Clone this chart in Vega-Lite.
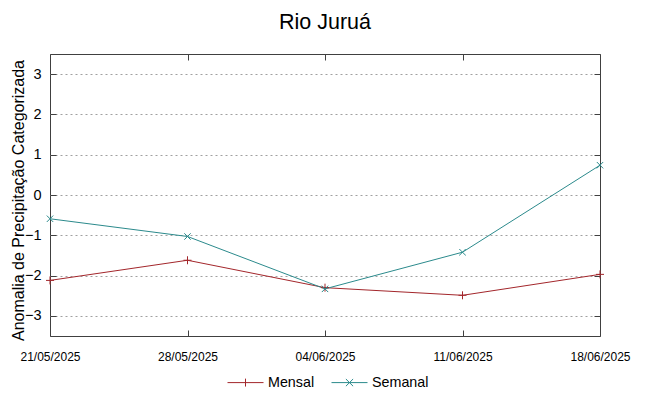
{
  "$schema": "https://vega.github.io/schema/vega-lite/v6.json",
  "width": 550,
  "height": 282,
  "autosize": {"type": "none"},
  "padding": {"left": 50, "top": 54, "right": 49, "bottom": 60},
  "background": "white",
  "title": {"text": "Rio Juruá", "fontSize": 21.5, "font": "Liberation Sans", "fontWeight": "normal", "color": "#000000", "anchor": "middle", "offset": 20},
  "data": {"values": [
    {"data": "21/05/2025", "serie": "Mensal", "valor": -2.12},
    {"data": "28/05/2025", "serie": "Mensal", "valor": -1.62},
    {"data": "04/06/2025", "serie": "Mensal", "valor": -2.30},
    {"data": "11/06/2025", "serie": "Mensal", "valor": -2.49},
    {"data": "18/06/2025", "serie": "Mensal", "valor": -1.97},
    {"data": "21/05/2025", "serie": "Semanal", "valor": -0.59},
    {"data": "28/05/2025", "serie": "Semanal", "valor": -1.03},
    {"data": "04/06/2025", "serie": "Semanal", "valor": -2.33},
    {"data": "11/06/2025", "serie": "Semanal", "valor": -1.42},
    {"data": "18/06/2025", "serie": "Semanal", "valor": 0.74}
  ]},
  "layer": [
    {"mark": {"type": "line", "strokeWidth": 1},
      "encoding": {
        "x": {"field": "data", "type": "ordinal", "sort": null,
          "scale": {"type": "point", "padding": 0},
          "axis": {"title": null, "labelAngle": 0, "labelFontSize": 12, "labelFont": "Liberation Sans", "labelColor": "#000000", "tickSize": -6, "tickColor": "#404040", "labelPadding": 21, "domain": false, "grid": false}},
        "y": {"field": "valor", "type": "quantitative",
          "scale": {"domain": [-3.5, 3.5], "nice": false, "zero": false},
          "axis": {"title": "Anomalia de Precipitação Categorizada", "values": [-3, -2, -1, 0, 1, 2, 3], "labelFontSize": 14.5, "labelFont": "Liberation Sans", "labelColor": "#000000", "titleFontSize": 16, "titleFont": "Liberation Sans", "titleFontWeight": "normal", "titleColor": "#000000", "titleX": -32, "titleY": 146, "titleBaseline": "middle", "titleAngle": -90, "tickSize": -6, "tickColor": "#404040", "labelPadding": 15, "domain": false, "grid": true, "gridDash": [2, 3], "gridColor": "#a0a0a0"}},
        "color": {"field": "serie", "type": "nominal",
        "scale": {"domain": ["Mensal", "Semanal"], "range": ["#a3262b", "#2b8a8c"]},
        "legend": {"title": null, "orient": "none", "legendX": 177, "legendY": 310, "direction": "horizontal",
          "labelFontSize": 14.3, "labelFont": "Liberation Sans", "labelColor": "#000000", "symbolSize": 1296, "symbolStrokeWidth": 1, "columnPadding": 14,
          "encode": {"symbols": {"update": {"shape": {"signal": "datum.value === 'Mensal' ? 'M-1,0H1M0,-0.22V0.22' : 'M-1,0H1M-0.2,-0.2L0.2,0.2M-0.2,0.2L0.2,-0.2'"}, "fill": {"value": "transparent"}}}}}}}},
    {"mark": {"type": "point", "filled": false, "strokeWidth": 1, "size": 64, "opacity": 1},
      "encoding": {
        "x": {"field": "data", "type": "ordinal", "sort": null,
          "scale": {"type": "point", "padding": 0},
          "axis": {"orient": "top", "title": null, "labels": false, "tickSize": -6, "tickColor": "#404040", "domain": false, "grid": false}},
        "y": {"field": "valor", "type": "quantitative",
          "scale": {"domain": [-3.5, 3.5], "nice": false, "zero": false},
          "axis": {"orient": "right", "title": null, "labels": false, "values": [-3, -2, -1, 0, 1, 2, 3], "tickSize": -6, "tickColor": "#404040", "domain": false, "grid": false}},
        "color": {"field": "serie", "type": "nominal", "scale": {"domain": ["Mensal", "Semanal"], "range": ["#a3262b", "#2b8a8c"]}, "legend": null},
        "shape": {"field": "serie", "type": "nominal", "scale": {"domain": ["Mensal", "Semanal"], "range": ["M-1,0H1M0,-1V1", "M-0.8,-0.8L0.8,0.8M-0.8,0.8L0.8,-0.8"]}, "legend": null}}}
  ],
  "resolve": {"scale": {"color": "independent", "shape": "independent"}, "axis": {"x": "independent", "y": "independent"}, "legend": {"color": "independent"}},
  "config": {
    "view": {"stroke": "#404040", "strokeWidth": 1},
    "axis": {"labelFont": "Liberation Sans"}
  }
}
